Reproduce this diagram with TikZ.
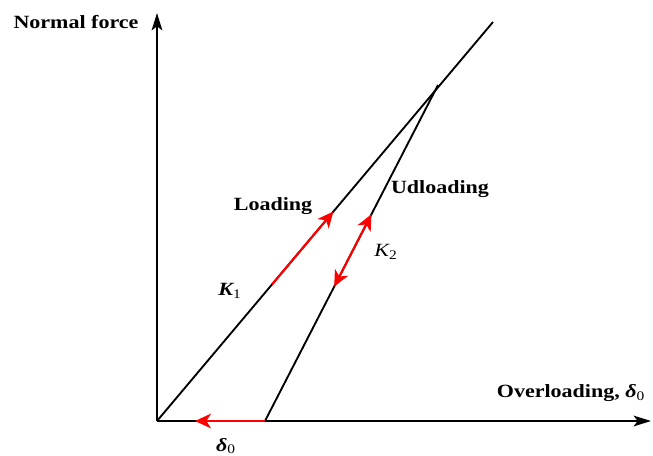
\documentclass[tikz,border=0pt]{standalone}
\usepackage{fontspec}
\setmainfont{Liberation Serif}
\usetikzlibrary{arrows.meta,calc}
\newcommand{\wid}[1]{\scalebox{1.18}[1]{#1}}
\begin{document}
\begin{tikzpicture}[x=0.75pt,y=-0.75pt,
  axis/.style={line width=1.4pt,-{Stealth[length=13pt,width=8pt,inset=3pt]}},
  curve/.style={line width=1.4pt},
  redhead/.tip={Stealth[length=12pt,width=11pt,inset=3.5pt]},
  redarr/.style={line width=1.6pt,red,-redhead},
  redboth/.style={line width=1.6pt,red,redhead-redhead},
  lbl/.style={inner sep=0pt,font=\fontsize{14}{16}\selectfont\bfseries}]
\useasboundingbox (0,0) rectangle (653,455);
\coordinate (O) at (157,421);
\coordinate (Ytop) at (157,13);
\coordinate (Xend) at (651,421);
\coordinate (Lend) at (493,22);
\coordinate (P) at (438,85);
\coordinate (U) at (265,421);
\coordinate (Dtip) at (195,421);
\draw[axis] (O) -- (Ytop);
\draw[axis] (O) -- (Xend);
\draw[curve] (O) -- (Lend);
\draw[curve] (P) -- (U);
\coordinate (La) at ($(O)!0.342!(Lend)$);
\coordinate (Lb) at ($(O)!0.525!(Lend)$);
\coordinate (Ua) at ($(P)!0.385!(U)$);
\coordinate (Ub) at ($(P)!0.60!(U)$);
\draw[redarr] (La) -- (Lb);
\draw[redboth] (Ub) -- (Ua);
\draw[redarr] (U) -- (Dtip);
\node[lbl] (nf) at (76,22) {\wid{Normal force}};
\node[lbl] (ov) at (571,393) {\wid{Overloading, {\itshape δ}\textsubscript{\mdseries 0}}};
\node[lbl] (ld) at (273,206) {\wid{Loading}};
\node[lbl] (ud) at (440,189) {\wid{Udloading}};
\node[lbl] (k1) at (230,291) {\wid{{\itshape K}\textsubscript{\mdseries 1}}};
\node[lbl,font=\fontsize{14}{16}\selectfont] (k2) at (386,252) {\wid{{\itshape K}\textsubscript{2}}};
\node[lbl] (d0) at (226,446) {\wid{{\itshape δ}\textsubscript{\mdseries 0}}};
\end{tikzpicture}
\end{document}
